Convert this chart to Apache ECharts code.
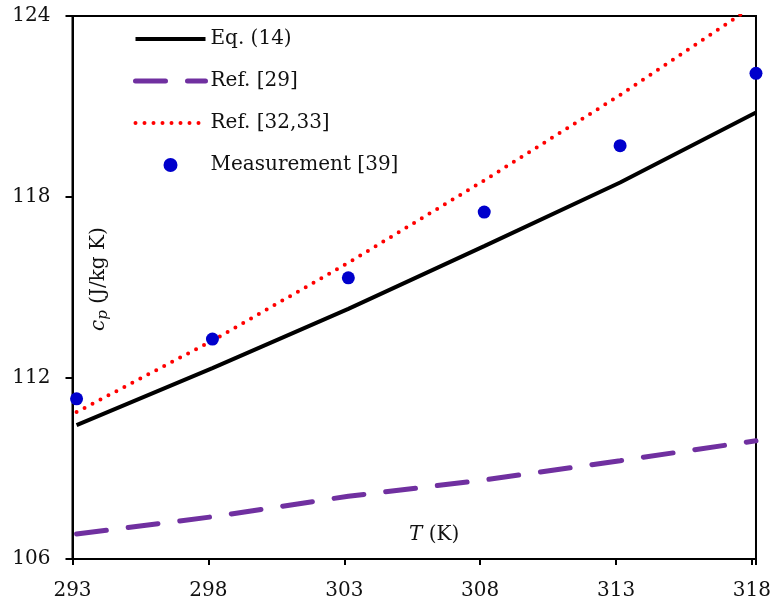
<!DOCTYPE html>
<html>
<head>
<meta charset="utf-8">
<style>
  html, body { margin: 0; padding: 0; background: #fff; }
  #chart { width: 774px; height: 605px; }
</style>
<script src="https://cdn.jsdelivr.net/npm/echarts@6/dist/echarts.min.js"></script>
</head>
<body>
<div id="chart"></div>
<script>
// Temperature grid (K) and specific heat values (J/kg K)
const temps = [293.15, 298.15, 303.15, 308.15, 313.15, 318.15];
const eq14 = [110.44, 112.33, 114.29, 116.37, 118.48, 120.80];
const ref29 = [106.83, 107.40, 108.08, 108.62, 109.26, 109.92];
const ref3233 = [110.87, 113.24, 115.82, 118.55, 121.38, 124.39];
const measured = [111.31, 113.29, 115.32, 117.50, 119.70, 122.10];

const seriesNames = ['Eq. (14)', 'Ref. [29]', 'Ref. [32,33]', 'Measurement [39]'];
const xTicks = [293, 298, 303, 308, 313, 318];
const yTicks = [106, 112, 118, 124];

const FONT = 'DejaVu Serif';
const pairs = ys => temps.map((t, i) => [t, ys[i]]);

const styles = {
  eq: { color: '#000', width: 4 },
  r29: { color: '#7030A0', width: 5, type: [30, 22], cap: 'round' },
  r32: { color: '#FF0000', width: 4, type: [0, 9], cap: 'round' }
};

const chart = echarts.init(document.getElementById('chart'), null, { renderer: 'canvas' });

chart.setOption({
  animation: false,
  backgroundColor: '#fff',
  grid: {
    left: 72.5, right: 17, top: 16, bottom: 46,
    show: true, borderColor: '#000', borderWidth: 2, backgroundColor: 'transparent'
  },
  legend: {
    orient: 'vertical',
    left: 133, top: 29,
    padding: 0,
    itemWidth: 70, itemHeight: 14, itemGap: 22,
    data: [
      { name: seriesNames[0], itemStyle: { opacity: 0 }, lineStyle: styles.eq },
      { name: seriesNames[1], itemStyle: { opacity: 0 }, lineStyle: styles.r29 },
      { name: seriesNames[2], itemStyle: { opacity: 0 }, lineStyle: styles.r32 },
      { name: seriesNames[3] }
    ],
    textStyle: { fontFamily: FONT, fontSize: 20, color: '#111', lineHeight: 20 }
  },
  xAxis: {
    type: 'value',
    min: xTicks[0], max: temps[temps.length - 1], interval: 5,
    axisLine: { show: true, lineStyle: { color: '#000', width: 2 } },
    axisTick: { show: true, length: 6, lineStyle: { color: '#000', width: 2 } },
    axisLabel: {
      margin: 22, fontFamily: FONT, fontSize: 20, color: '#111',
      formatter: v => (xTicks.indexOf(v) >= 0 ? String(v) : '')
    },
    splitLine: { show: false }
  },
  yAxis: {
    type: 'value',
    min: yTicks[0], max: yTicks[yTicks.length - 1], interval: 6,
    axisLine: { show: true, lineStyle: { color: '#000', width: 2 } },
    axisTick: { show: true, length: 7, lineStyle: { color: '#000', width: 2 } },
    axisLabel: { margin: 22, fontFamily: FONT, fontSize: 20, color: '#111' },
    splitLine: { show: false }
  },
  graphic: [
    {
      type: 'text', left: 409, top: 525,
      style: {
        text: '{i|T} (K)',
        fontFamily: FONT, fontSize: 20, fill: '#111',
        rich: { i: { fontFamily: FONT, fontStyle: 'italic', fontSize: 20, fill: '#111' } }
      }
    },
    {
      type: 'text', x: 86, y: 331, rotation: Math.PI / 2,
      style: {
        text: '{i|c}{s|p} (J/kg K)',
        fontFamily: FONT, fontSize: 20, fill: '#111',
        rich: {
          i: { fontFamily: FONT, fontStyle: 'italic', fontSize: 20, fill: '#111' },
          s: { fontFamily: FONT, fontStyle: 'italic', fontSize: 15, fill: '#111', padding: [10, 0, 0, 0] }
        }
      }
    }
  ],
  series: [
    {
      name: seriesNames[0], type: 'line', data: pairs(eq14),
      symbol: 'none', color: '#000',
      lineStyle: styles.eq, z: 3
    },
    {
      name: seriesNames[1], type: 'line', data: pairs(ref29),
      symbol: 'none', color: '#7030A0',
      lineStyle: styles.r29, z: 3
    },
    {
      name: seriesNames[2], type: 'line', data: pairs(ref3233),
      symbol: 'none', color: '#FF0000',
      lineStyle: styles.r32, z: 3
    },
    {
      name: seriesNames[3], type: 'scatter', data: pairs(measured),
      symbol: 'circle', symbolSize: 13, clip: false,
      itemStyle: { color: '#0000CC', opacity: 1 }, z: 5
    }
  ]
});
</script>
</body>
</html>
